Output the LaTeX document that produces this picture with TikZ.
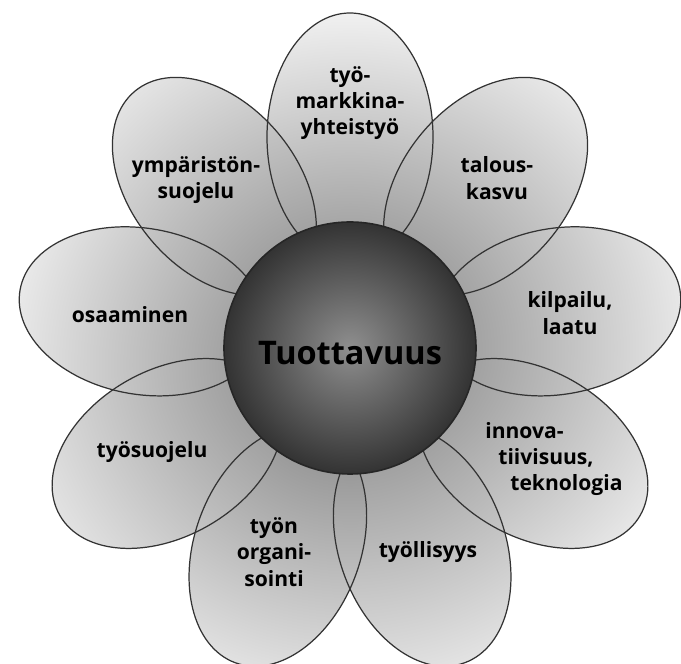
\documentclass[tikz,border=0pt]{standalone}
\usepackage{fontspec}
\setmainfont{Open Sans}
\usetikzlibrary{shapes,positioning}

\begin{document}
\begin{tikzpicture}[font=\fontsize{12}{15}\selectfont\bfseries,
  petalfill/.style={path picture={\shade[inner color=black!52, outer color=black!5] (mid) circle (6.8);}},
  petalline/.style={draw=black!80, line width=0.7pt},
  petaltext/.style={align=center, inner sep=0pt}]
  \useasboundingbox (0,0) rectangle (13.62,13.28);
  \coordinate (mid) at (7.0,6.32);

  %% ── Petals: shaded fill ───────────────────────────────────
  \path[petalfill, shift={(mid)}, rotate=90]   (4.22,0) ellipse (2.48 and 1.66);
  \path[petalfill, shift={(mid)}, rotate=50]   (4.22,0) ellipse (2.48 and 1.66);
  \path[petalfill, shift={(mid)}, rotate=10]   (4.22,0) ellipse (2.48 and 1.66);
  \path[petalfill, shift={(mid)}, rotate=-30]  (4.22,0) ellipse (2.48 and 1.66);
  \path[petalfill, shift={(mid)}, rotate=-70]  (4.22,0) ellipse (2.48 and 1.66);
  \path[petalfill, shift={(mid)}, rotate=-110] (4.22,0) ellipse (2.48 and 1.66);
  \path[petalfill, shift={(mid)}, rotate=-150] (4.22,0) ellipse (2.48 and 1.66);
  \path[petalfill, shift={(mid)}, rotate=170]  (4.22,0) ellipse (2.48 and 1.66);
  \path[petalfill, shift={(mid)}, rotate=130]  (4.22,0) ellipse (2.48 and 1.66);

  %% ── Petals: outlines (all visible through each other) ─────
  \draw[petalline, shift={(mid)}, rotate=90]   (4.22,0) ellipse (2.48 and 1.66);
  \draw[petalline, shift={(mid)}, rotate=50]   (4.22,0) ellipse (2.48 and 1.66);
  \draw[petalline, shift={(mid)}, rotate=10]   (4.22,0) ellipse (2.48 and 1.66);
  \draw[petalline, shift={(mid)}, rotate=-30]  (4.22,0) ellipse (2.48 and 1.66);
  \draw[petalline, shift={(mid)}, rotate=-70]  (4.22,0) ellipse (2.48 and 1.66);
  \draw[petalline, shift={(mid)}, rotate=-110] (4.22,0) ellipse (2.48 and 1.66);
  \draw[petalline, shift={(mid)}, rotate=-150] (4.22,0) ellipse (2.48 and 1.66);
  \draw[petalline, shift={(mid)}, rotate=170]  (4.22,0) ellipse (2.48 and 1.66);
  \draw[petalline, shift={(mid)}, rotate=130]  (4.22,0) ellipse (2.48 and 1.66);

  %% ── Centre sphere ─────────────────────────────────────────
  \node (tuottavuus) [circle, minimum size=5.04cm, inner sep=0pt,
    draw=black!85, line width=0.9pt, shade, inner color=black!44, outer color=black!80,
    text height=18.8pt, text depth=0pt,
    font=\fontsize{18.5}{22}\selectfont\bfseries] at (mid) {Tuottavuus};

  %% ── Petal labels ──────────────────────────────────────────
  \node (tyomarkkina) [petaltext] at (7.0,11.22) {työ-\\markkina-\\yhteistyö};
  \node (talouskasvu) [petaltext] at (9.94,9.72) {talous-\\kasvu};
  \node (kilpailu) [petaltext] at (11.40,7.02) {kilpailu,\\laatu};
  \node (innovatiivisuus) [petaltext, align=left, anchor=west] at (9.70,4.10)
    {innova-\\\hspace*{0.26cm}tiivisuus,\\\hspace*{0.5cm}teknologia};
  \node (tyollisyys) [petaltext] at (8.56,2.24) {työllisyys};
  \node (tyonorganisointi) [petaltext] at (5.48,2.24) {työn\\organi-\\sointi};
  \node (tyosuojelu) [petaltext] at (3.04,4.24) {työsuojelu};
  \node (osaaminen) [petaltext] at (2.60,6.98) {osaaminen};
  \node (ymparisto) [petaltext] at (3.92,9.68) {ympäristön-\\suojelu};
\end{tikzpicture}
\end{document}
